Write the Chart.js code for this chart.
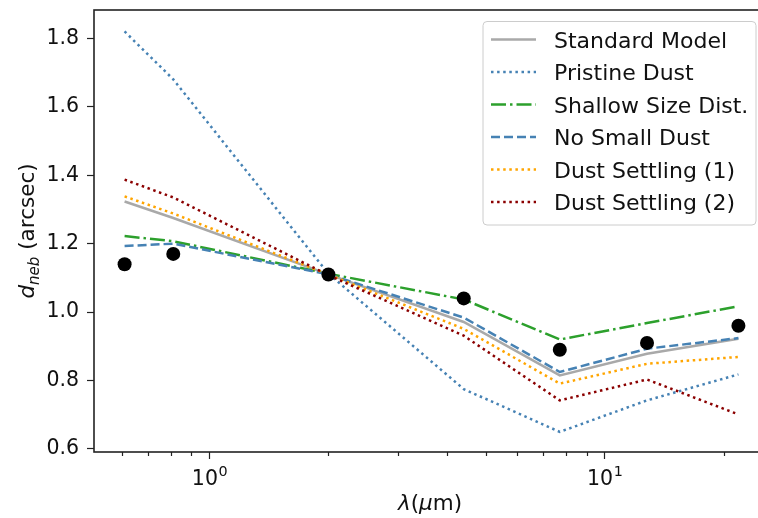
<!DOCTYPE html>
<html>
<head>
<meta charset="utf-8">
<script src="https://cdn.jsdelivr.net/npm/chart.js@4.4.1/dist/chart.umd.min.js"></script>
<style>
html, body { margin: 0; padding: 0; overflow: hidden; background: #fff; }
canvas { display: block; }
</style>
</head>
<body>
<canvas id="chart" width="773" height="518"></canvas>
<script>
// wavelengths (micron) and measured / modelled nebula sizes (arcsec)
const wavelength = [0.61, 0.81, 2.0, 4.4, 7.7, 12.8, 21.8];
const observed   = [1.14, 1.17, 1.11, 1.04, 0.89, 0.91, 0.96];
const standard   = [1.323, 1.275, 1.11, 0.971, 0.815, 0.878, 0.922];
const pristine   = [1.82, 1.68, 1.112, 0.775, 0.650, 0.742, 0.818];
const shallow    = [1.222, 1.207, 1.112, 1.037, 0.920, 0.968, 1.017];
const noSmall    = [1.193, 1.200, 1.11, 0.984, 0.825, 0.893, 0.924];
const settling1  = [1.338, 1.288, 1.11, 0.951, 0.791, 0.849, 0.869];
const settling2  = [1.387, 1.335, 1.108, 0.931, 0.742, 0.803, 0.701];

const xTicks = [0.6, 0.7, 0.8, 0.9, 1, 2, 3, 4, 5, 6, 7, 8, 9, 10, 20];
const xMajor = [[1, '0'], [10, '1']];   // 10^exp labels
const yTicks = [0.6, 0.8, 1.0, 1.2, 1.4, 1.6, 1.8];

const FONT = '"DejaVu Sans"';
const FS = 20.5;      // tick labels
const FS_T = 21.5;    // axis titles
const FS_L = 22;      // legend
const INK = '#111';

function pts(vals) {
	return wavelength.map((w, i) => ({ x: w, y: vals[i] }));
}
function isMajor(v) {
	return v === 1 || v === 10;
}

const models = [
	{ label: 'Standard Model', values: standard, color: '#a9a9a9', dash: [] },
	{ label: 'Pristine Dust', values: pristine, color: '#4682b4', dash: [2.5, 3.6] },
	{ label: 'Shallow Size Dist.', values: shallow, color: '#2ca02c', dash: [15, 4, 2.5, 4] },
	{ label: 'No Small Dust', values: noSmall, color: '#4682b4', dash: [9, 4] },
	{ label: 'Dust Settling (1)', values: settling1, color: '#ffa500', dash: [2.5, 3.6] },
	{ label: 'Dust Settling (2)', values: settling2, color: '#8b0000', dash: [2.5, 3.6] }
];

const datasets = [
	{
		label: 'Observed',
		data: pts(observed),
		showLine: false,
		pointRadius: 7,
		pointBackgroundColor: '#000',
		pointBorderWidth: 0,
		order: 0
	}
].concat(models.map((m, i) => ({
	label: m.label,
	data: pts(m.values),
	borderColor: m.color,
	borderDash: m.dash,
	borderWidth: 2.5,
	pointRadius: 0,
	fill: false,
	tension: 0,
	order: models.length - i
})));

// frame, minor ticks, 10^n labels, axis titles and legend
const extras = {
	id: 'extras',
	afterDraw(chart) {
		const ctx = chart.ctx;
		const a = chart.chartArea;
		const xs = chart.scales.x;
		ctx.save();

		ctx.strokeStyle = '#222';
		ctx.lineWidth = 1.2;
		xTicks.filter((v) => !isMajor(v)).forEach((v) => {
			const px = Math.round(xs.getPixelForValue(v)) + 0.5;
			ctx.beginPath();
			ctx.moveTo(px, a.bottom);
			ctx.lineTo(px, a.bottom + 4);
			ctx.stroke();
		});

		ctx.lineWidth = 1.6;
		ctx.strokeRect(a.left, a.top, a.right - a.left, a.bottom - a.top);

		ctx.fillStyle = INK;
		ctx.textBaseline = 'alphabetic';
		ctx.textAlign = 'left';

		// log tick labels with a raised exponent
		xMajor.forEach(([v, e]) => {
			ctx.font = FS + 'px ' + FONT;
			const wb = ctx.measureText('10').width;
			ctx.font = (FS * 0.7) + 'px ' + FONT;
			const we = ctx.measureText(e).width;
			const left = xs.getPixelForValue(v) - (wb + we) / 2;
			ctx.font = FS + 'px ' + FONT;
			ctx.fillText('10', left, a.bottom + 33);
			ctx.font = (FS * 0.7) + 'px ' + FONT;
			ctx.fillText(e, left + wb + 0.5, a.bottom + 24);
		});

		// y title: d_neb (arcsec)
		ctx.translate(34, (a.top + a.bottom) / 2);
		ctx.rotate(-Math.PI / 2);
		ctx.font = 'italic ' + FS_T + 'px ' + FONT;
		const wD = ctx.measureText('d').width;
		ctx.font = 'italic ' + (FS_T * 0.7) + 'px ' + FONT;
		const wS = ctx.measureText('neb').width;
		ctx.font = FS_T + 'px ' + FONT;
		const wR = ctx.measureText(' (arcsec)').width;
		const x0 = -(wD + wS + wR) / 2;
		ctx.font = 'italic ' + FS_T + 'px ' + FONT;
		ctx.fillText('d', x0, 0);
		ctx.font = 'italic ' + (FS_T * 0.7) + 'px ' + FONT;
		ctx.fillText('neb', x0 + wD, 4.5);
		ctx.font = FS_T + 'px ' + FONT;
		ctx.fillText(' (arcsec)', x0 + wD + wS, 0);
		ctx.setTransform(1, 0, 0, 1, 0, 0);

		// x title: λ(μm)
		const parts = [['λ', true], ['(', false], ['μ', true], ['m)', false]];
		let total = 0;
		parts.forEach((p) => {
			ctx.font = (p[1] ? 'italic ' : '') + FS_T + 'px ' + FONT;
			total += ctx.measureText(p[0]).width;
		});
		let cx = (a.left + a.right) / 2 - total / 2;
		parts.forEach((p) => {
			ctx.font = (p[1] ? 'italic ' : '') + FS_T + 'px ' + FONT;
			ctx.fillText(p[0], cx, 510);
			cx += ctx.measureText(p[0]).width;
		});

		// legend, anchored to the upper right corner of the axes
		const lx = a.right - 283;
		ctx.beginPath();
		ctx.roundRect(lx, 21.5, 273, 203.5, 4);
		ctx.fillStyle = 'rgba(255,255,255,0.8)';
		ctx.fill();
		ctx.strokeStyle = '#cccccc';
		ctx.lineWidth = 1;
		ctx.stroke();
		ctx.font = FS_L + 'px ' + FONT;
		models.forEach((m, i) => {
			const y = 39.5 + i * 32.5;
			ctx.strokeStyle = m.color;
			ctx.lineWidth = 2.5;
			ctx.setLineDash(m.dash);
			ctx.beginPath();
			ctx.moveTo(lx + 8, y);
			ctx.lineTo(lx + 53, y);
			ctx.stroke();
			ctx.setLineDash([]);
			ctx.fillStyle = INK;
			ctx.fillText(m.label, lx + 71, y + 8);
		});
		ctx.restore();
	}
};

new Chart(document.getElementById('chart'), {
	type: 'line',
	data: { datasets: datasets },
	options: {
		responsive: false,
		devicePixelRatio: 1,
		animation: false,
		events: [],
		layout: { padding: { top: 10, left: 0, right: 0, bottom: 0 } },
		plugins: { legend: { display: false }, tooltip: { enabled: false } },
		scales: {
			x: {
				type: 'logarithmic',
				min: 0.5104,
				max: 25.6,
				afterBuildTicks: (s) => { s.ticks = xTicks.map((v) => ({ value: v, major: isMajor(v) })); },
				afterFit: (s) => { s.height = 66; s.paddingLeft = 0; s.paddingRight = 0; },
				border: { display: false },
				grid: {
					drawOnChartArea: false,
					drawTicks: true,
					tickLength: 7,
					tickWidth: 1.2,
					tickColor: (c) => (c.tick && isMajor(c.tick.value) ? '#222' : 'rgba(0,0,0,0)')
				},
				ticks: {
					autoSkip: false,
					maxRotation: 0,
					callback: () => ''
				}
			},
			y: {
				type: 'linear',
				min: 0.5912,
				max: 1.8827,
				afterBuildTicks: (s) => { s.ticks = yTicks.map((v) => ({ value: v })); },
				afterFit: (s) => { s.width = 94; s.paddingTop = 0; s.paddingBottom = 0; },
				border: { display: false },
				grid: {
					drawOnChartArea: false,
					drawTicks: true,
					tickLength: 7,
					tickWidth: 1.2,
					tickColor: '#222'
				},
				ticks: {
					padding: 8,
					color: INK,
					font: { family: 'DejaVu Sans', size: FS },
					callback: (v) => v.toFixed(1)
				}
			}
		}
	},
	plugins: [extras]
});
</script>
</body>
</html>
